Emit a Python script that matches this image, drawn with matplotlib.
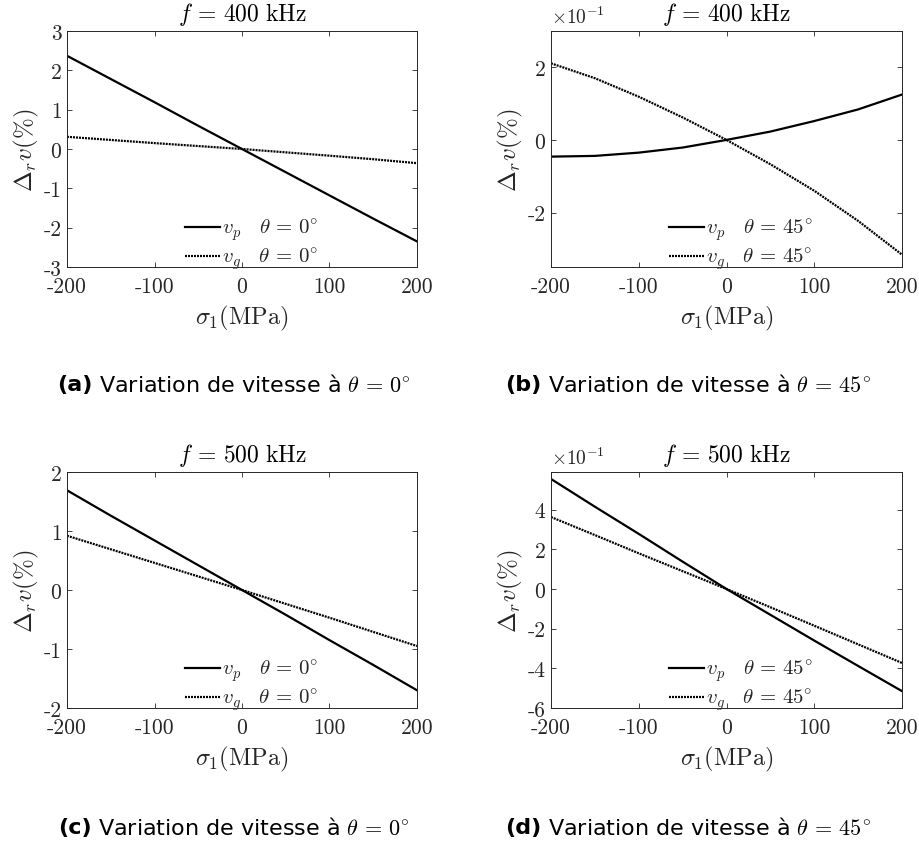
import numpy as np
import matplotlib
matplotlib.use("Agg")
import matplotlib.pyplot as plt

plt.rcParams['mathtext.fontset'] = 'cm'
plt.rcParams['axes.unicode_minus'] = False

############################## data ##############################

sigma = [-200, -150, -100, -50, 0, 50, 100, 150, 200]

# (a) f = 400 kHz, theta = 0
vp_400_0 = [2.37, 1.78, 1.19, 0.59, 0.0, -0.59, -1.18, -1.77, -2.35]
vg_400_0 = [0.31, 0.23, 0.15, 0.075, 0.0, -0.085, -0.17, -0.26, -0.36]

# (b) f = 400 kHz, theta = 45
vp_400_45 = [-0.046, -0.044, -0.035, -0.021, 0.0, 0.023, 0.052, 0.084, 0.125]
vg_400_45 = [0.211, 0.170, 0.119, 0.062, 0.0, -0.067, -0.140, -0.223, -0.316]

# (c) f = 500 kHz, theta = 0
vp_500_0 = [1.69, 1.26, 0.84, 0.42, 0.0, -0.42, -0.85, -1.27, -1.70]
vg_500_0 = [0.92, 0.69, 0.46, 0.23, 0.0, -0.235, -0.47, -0.71, -0.95]

# (d) f = 500 kHz, theta = 45
vp_500_45 = [0.555, 0.415, 0.278, 0.138, 0.0, -0.130, -0.260, -0.388, -0.515]
vg_500_45 = [0.363, 0.272, 0.180, 0.090, 0.0, -0.092, -0.185, -0.279, -0.373]

panel_letters = ['(a)', '(b)', '(c)', '(d)']
freqs = [400, 400, 500, 500]
angles = [0, 45, 0, 45]
vp_all = [vp_400_0, vp_400_45, vp_500_0, vp_500_45]
vg_all = [vg_400_0, vg_400_45, vg_500_0, vg_500_45]
ylims = [(-3, 3), (-0.35, 0.3), (-2, 2), (-0.6, 0.59)]
yticks = [[-3, -2, -1, 0, 1, 2, 3], [-0.2, 0, 0.2], [-2, -1, 0, 1, 2], [-0.6, -0.4, -0.2, 0, 0.2, 0.4]]
scales = [1, 10, 1, 10]   # panels b and d carry a x10^-1 factor

##############################  layout (pixels)  ##############################

W, H = 919, 845
fig = plt.figure(figsize=(W / 100, H / 100), dpi=100)

boxes = [(67, 32, 417, 268), (551, 32, 902, 268), (67, 473, 417, 709), (551, 473, 902, 709)]
caption_y = [385, 385, 828, 828]
caption_cx = [234, 688, 234, 688]

grey = '#262626'

def px(x0, y0, x1, y1):
    return [x0 / W, 1 - y1 / H, (x1 - x0) / W, (y1 - y0) / H]

renderer = fig.canvas.get_renderer()

for i in range(4):
    ax = fig.add_axes(px(*boxes[i]))
    s = scales[i]
    ax.plot(sigma, np.array(vp_all[i]) * s, color='black', lw=1.6, linestyle='-',
            label=r'$v_p\ \ \ \theta\,=\,%d^{\circ}$' % angles[i])
    ax.plot(sigma, np.array(vg_all[i]) * s, color='black', lw=1.6, linestyle=(0, (0.9, 0.45)),
            label=r'$v_g\ \ \ \theta\,=\,%d^{\circ}$' % angles[i])

    ax.set_xlim(-200, 200)
    ax.set_ylim(ylims[i][0] * s, ylims[i][1] * s)
    ax.set_xticks([-200, -100, 0, 100, 200])
    ax.set_xticklabels(['-200', '-100', '0', '100', '200'])
    yt = [round(v * s) for v in yticks[i]]
    ax.set_yticks(yt)
    ax.set_yticklabels(['%d' % v for v in yt])
    for lab in ax.get_xticklabels() + ax.get_yticklabels():
        lab.set_fontfamily('cmr10')
        lab.set_fontsize(15.5)
        lab.set_color(grey)
    ax.tick_params(direction='in', length=3.5, width=0.6, top=True, right=True,
                   color=grey)
    ax.tick_params(axis='x', pad=7)
    ax.tick_params(axis='y', pad=4)
    for sp in ax.spines.values():
        sp.set_color(grey)
        sp.set_linewidth(0.7)

    ax.set_title(r'$f\,=\,%d\ \mathrm{kHz}$' % freqs[i], fontsize=17, pad=8)
    ax.set_xlabel(r'$\sigma_1(\mathrm{MPa})$', fontsize=17.5, color=grey, labelpad=5)
    ax.set_ylabel(r'$\Delta_r v(\%)$', fontsize=18, color=grey, labelpad=2)

    if s != 1:
        ax.text(0.0, 1.015, r'$\times 10^{-1}$', transform=ax.transAxes,
                fontsize=14, color=grey, ha='left', va='bottom')

    leg = ax.legend(loc='lower left', bbox_to_anchor=(0.3, -0.075), frameon=False,
                    fontsize=15, handlelength=1.7, handletextpad=0.1,
                    labelspacing=0.15, borderpad=0.1)
    for t in leg.get_texts():
        t.set_color(grey)

    # caption below the panel: bold letter then the description
    t1 = fig.text(0, 1 - caption_y[i] / H, panel_letters[i], fontsize=16,
                  fontweight='bold', va='center', ha='left', family='DejaVu Sans')
    t2 = fig.text(0, 1 - caption_y[i] / H,
                  r' Variation de vitesse à $\theta\,=\,%d^{\circ}$' % angles[i],
                  fontsize=16, va='center', ha='left', family='DejaVu Sans')
    w1 = t1.get_window_extent(renderer).width
    w2 = t2.get_window_extent(renderer).width
    x0 = caption_cx[i] - (w1 + w2) / 2
    t1.set_x(x0 / W)
    t2.set_x((x0 + w1) / W)

fig.savefig('out.png', dpi=100)
